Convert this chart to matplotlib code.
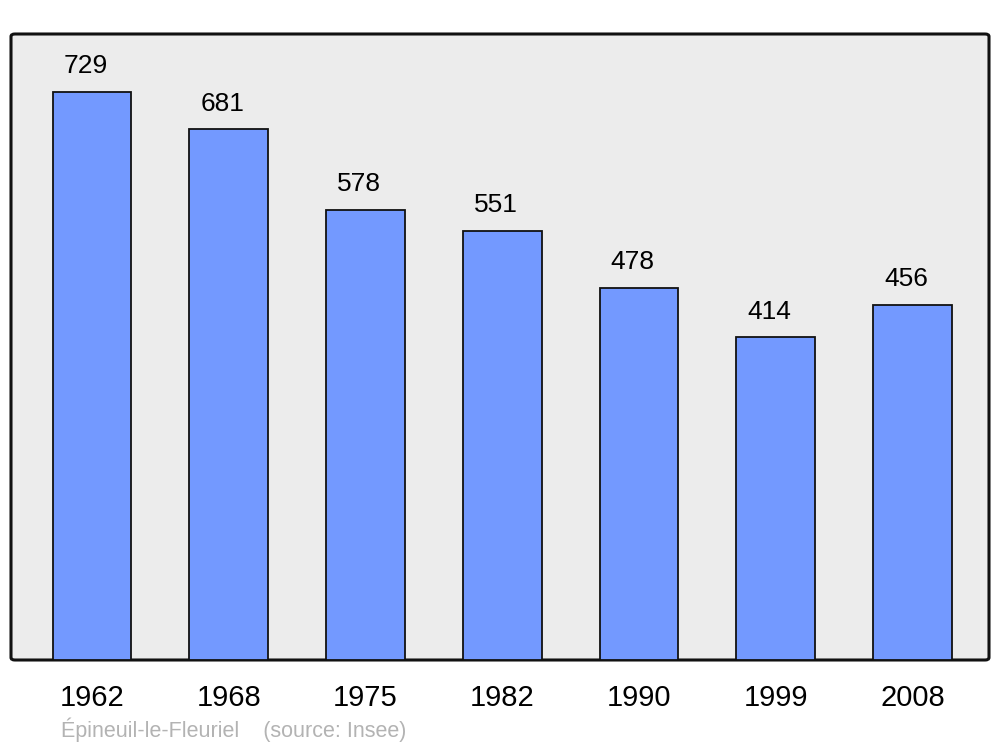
import matplotlib
matplotlib.use("Agg")
import matplotlib.pyplot as plt
from matplotlib.patches import FancyBboxPatch

years = ["1962", "1968", "1975", "1982", "1990", "1999", "2008"]
population = [729, 681, 578, 551, 478, 414, 456]
caption = "Épineuil-le-Fleuriel    (source: Insee)"

plt.rcParams['font.family'] = ['Liberation Sans', 'DejaVu Sans']

fig = plt.figure(figsize=(10, 7.47), dpi=100)
ax = fig.add_axes([11/1000, 87/747, 978/1000, 626/747])
ax.set_facecolor('none')
for s in ax.spines.values():
    s.set_visible(False)

bg = FancyBboxPatch((0, 0), 1, 1, boxstyle="round,pad=0,rounding_size=0.004",
                    transform=ax.transAxes, facecolor='#ececec', edgecolor='#111111',
                    linewidth=2.2, clip_on=False, zorder=0)
ax.add_patch(bg)

x = list(range(len(years)))
bars = ax.bar(x, population, width=0.575, color='#7399ff', edgecolor='#111111',
              linewidth=1.3, zorder=2)
for xi, v in zip(x, population):
    ax.annotate(str(v), (xi, v), xytext=(-4.5, 10), textcoords='offset points',
                ha='center', va='bottom', fontsize=19, color='black')

ax.set_xlim(-0.593, 6.56)
ax.set_ylim(0, 803.5)
ax.set_xticks(x)
ax.set_xticklabels(years, fontsize=21, color='black')
for lbl in ax.get_xticklabels():
    lbl.set_x(lbl.get_position()[0])
ax.tick_params(axis='x', length=0, pad=17.5)
ax.set_yticks([])

fig.text(61/1000, 1 - 730/747, caption, fontsize=15.5, color='#b3b3b3',
         ha='left', va='center')

fig.savefig("out.png", dpi=100)
